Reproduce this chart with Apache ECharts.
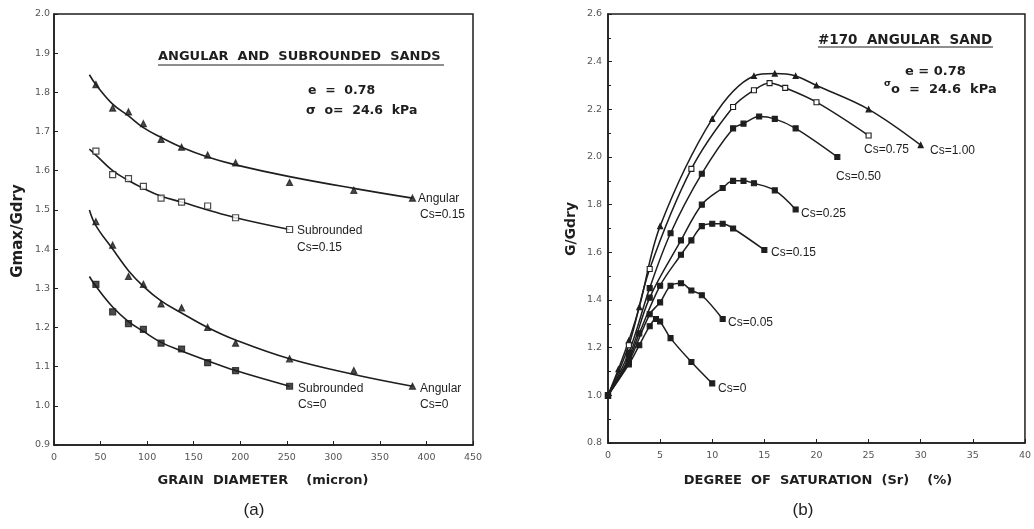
<!DOCTYPE html>
<html>
<head>
<meta charset="utf-8">
<script src="https://cdn.jsdelivr.net/npm/echarts@6/dist/echarts.min.js"></script>
<style>html,body{margin:0;padding:0;background:#fff}#c{width:1034px;height:529px}</style>
</head>
<body>
<div id="c"></div>
<script>
// ---------- Panel (a): Gmax/Gdry vs grain diameter ----------
const aXTicks = [0, 50, 100, 150, 200, 250, 300, 350, 400, 450];
const aYTicks = [0.9, 1.0, 1.1, 1.2, 1.3, 1.4, 1.5, 1.6, 1.7, 1.8, 1.9, 2.0];
// measured points [diameter, Gmax/Gdry]
const angular015 = [[45,1.82],[63,1.76],[80,1.75],[96,1.72],[115,1.68],[137,1.66],[165,1.64],[195,1.62],[253,1.57],[322,1.55],[385,1.53]];
const subrounded015 = [[45,1.65],[63,1.59],[80,1.58],[96,1.56],[115,1.53],[137,1.52],[165,1.51],[195,1.48],[253,1.45]];
const angular0 = [[45,1.47],[63,1.41],[80,1.33],[96,1.31],[115,1.26],[137,1.25],[165,1.20],[195,1.16],[253,1.12],[322,1.09],[385,1.05]];
const subrounded0 = [[45,1.31],[63,1.24],[80,1.21],[96,1.195],[115,1.16],[137,1.145],[165,1.11],[195,1.09],[253,1.05]];
// fitted curves
const fitAngular015 = [[38,1.845],[45,1.82],[63,1.77],[80,1.74],[96,1.71],[115,1.685],[137,1.66],[165,1.635],[195,1.615],[253,1.585],[322,1.555],[385,1.53]];
const fitSubrounded015 = [[38,1.655],[45,1.64],[63,1.60],[80,1.575],[96,1.555],[115,1.535],[137,1.52],[165,1.50],[195,1.48],[253,1.45]];
const fitAngular0 = [[38,1.50],[45,1.46],[63,1.40],[80,1.345],[96,1.305],[115,1.268],[137,1.237],[165,1.20],[195,1.168],[253,1.12],[322,1.08],[385,1.05]];
const fitSubrounded0 = [[38,1.33],[45,1.305],[63,1.252],[80,1.215],[96,1.19],[115,1.162],[137,1.14],[165,1.115],[195,1.09],[253,1.05]];

// ---------- Panel (b): G/Gdry vs degree of saturation ----------
const bXTicks = [0, 5, 10, 15, 20, 25, 30, 35, 40];
const bYTicks = [0.8, 1.0, 1.2, 1.4, 1.6, 1.8, 2.0, 2.2, 2.4, 2.6];
const cs100 = [[0,1.0],[1,1.11],[2,1.23],[3,1.37],[5,1.71],[10,2.16],[14,2.34],[16,2.35],[18,2.34],[20,2.30],[25,2.20],[30,2.05]];
const cs075 = [[0,1.0],[2,1.21],[4,1.53],[8,1.95],[12,2.21],[14,2.28],[15.5,2.31],[17,2.29],[20,2.23],[25,2.09]];
const cs050 = [[0,1.0],[2,1.18],[4,1.45],[6,1.68],[9,1.93],[12,2.12],[13,2.14],[14.5,2.17],[16,2.16],[18,2.12],[22,2.0]];
const cs025 = [[0,1.0],[2,1.16],[4,1.41],[7,1.65],[9,1.80],[11,1.87],[12,1.90],[13,1.90],[14,1.89],[16,1.86],[18,1.78]];
const cs015 = [[0,1.0],[2,1.15],[3,1.26],[5,1.46],[7,1.59],[8,1.65],[9,1.71],[10,1.72],[11,1.72],[12,1.70],[15,1.61]];
const cs005 = [[0,1.0],[2,1.14],[4,1.34],[5,1.39],[6,1.46],[7,1.47],[8,1.44],[9,1.42],[11,1.32]];
const cs000 = [[0,1.0],[2,1.13],[3,1.21],[4,1.29],[4.6,1.32],[5,1.31],[6,1.24],[8,1.14],[10,1.05]];

const INK = '#1e1e1e';
const chart = echarts.init(document.getElementById('c'), null, {renderer: 'canvas'});

function xAxisCfg(idx, ticks) {
  return {
    type: 'value', gridIndex: idx, min: ticks[0], max: ticks[ticks.length - 1],
    interval: ticks[1] - ticks[0],
    axisLine: {show: true, onZero: false, lineStyle: {color: INK, width: 1.5}},
    axisTick: {show: true, inside: true, length: 4, lineStyle: {color: INK}},
    axisLabel: {color: '#555', fontSize: 9.5, fontFamily: 'DejaVu Sans', margin: 8},
    splitLine: {show: false}
  };
}
function yAxisCfg(idx, ticks, minor, margin) {
  return {
    type: 'value', gridIndex: idx, min: ticks[0], max: ticks[ticks.length - 1],
    interval: +(ticks[1] - ticks[0]).toFixed(2),
    axisLine: {show: true, onZero: false, lineStyle: {color: INK, width: 1.5}},
    axisTick: {show: true, inside: true, length: 4, lineStyle: {color: INK}},
    minorTick: {show: !!minor, splitNumber: 2, length: 3, lineStyle: {color: INK}},
    axisLabel: {color: '#555', fontSize: 9.5, fontFamily: 'DejaVu Sans', margin: margin,
      formatter: v => v.toFixed(1)},
    splitLine: {show: false}
  };
}
function curve(data, x, y) {
  return {type: 'line', xAxisIndex: x, yAxisIndex: y, data: data, smooth: 0.4,
    showSymbol: false, symbol: 'none', lineStyle: {color: INK, width: 1.6}, z: 2};
}
function pts(data, x, y, symbol, filled, size) {
  return {type: 'scatter', xAxisIndex: x, yAxisIndex: y, data: data, symbol: symbol,
    symbolSize: size || 6,
    itemStyle: {color: filled ? INK : '#fff', borderColor: INK, borderWidth: 1.2}, z: 3};
}
function line(data, x, y, symbol, filled, size) {
  return {type: 'line', xAxisIndex: x, yAxisIndex: y, data: data, smooth: 0.35,
    symbol: symbol, symbolSize: size || 5, showSymbol: true,
    lineStyle: {color: INK, width: 1.5},
    itemStyle: {color: filled ? INK : '#fff', borderColor: INK, borderWidth: 1.1}, z: 3};
}

const txt = (x, y, text, opt) => Object.assign({type: 'text', x: x, y: y,
  style: Object.assign({text: text, fill: INK, font: '12px "Liberation Sans"'}, opt || {})});

const labelFont = '12px "Liberation Sans"';
const boldFont = 'bold 13px "DejaVu Sans"';
const titleFont = 'bold 12.5px "DejaVu Sans"';

const option = {
  animation: false,
  backgroundColor: '#fff',
  grid: [
    {left: 54, top: 14, width: 419, height: 431, show: true, borderColor: INK, borderWidth: 1.5, backgroundColor: 'transparent'},
    {left: 608, top: 14, width: 420, height: 429, show: true, borderColor: INK, borderWidth: 1.5, backgroundColor: 'transparent'}
  ],
  xAxis: [xAxisCfg(0, aXTicks), xAxisCfg(1, bXTicks)],
  yAxis: [yAxisCfg(0, aYTicks, false, 4), yAxisCfg(1, bYTicks, true, 6)],
  series: [
    curve(fitAngular015, 0, 0), curve(fitSubrounded015, 0, 0),
    curve(fitAngular0, 0, 0), curve(fitSubrounded0, 0, 0),
    pts(angular015, 0, 0, 'triangle', true, 6),
    pts(subrounded015, 0, 0, 'rect', false, 6),
    pts(angular0, 0, 0, 'triangle', true, 6),
    pts(subrounded0, 0, 0, 'rect', true, 6),
    line(cs100, 1, 1, 'triangle', true, 5),
    line(cs075, 1, 1, 'rect', false, 5),
    line(cs050, 1, 1, 'rect', true, 5),
    line(cs025, 1, 1, 'rect', true, 5),
    line(cs015, 1, 1, 'rect', true, 5),
    line(cs005, 1, 1, 'rect', true, 5),
    line(cs000, 1, 1, 'rect', true, 5)
  ],
  graphic: [
    // Panel (a) annotations
    txt(158, 50, 'ANGULAR  AND  SUBROUNDED  SANDS', {font: 'bold 13px "DejaVu Sans"'}),
    {type: 'line', shape: {x1: 158, y1: 65, x2: 444, y2: 65}, style: {stroke: INK, lineWidth: 1}},
    txt(308, 84, 'e  =  0.78', {font: titleFont}),
    txt(306, 104, 'σ  o=  24.6  kPa', {font: titleFont}),
    txt(418, 193, 'Angular', {font: labelFont}),
    txt(420, 209, 'Cs=0.15', {font: labelFont}),
    txt(297, 225, 'Subrounded', {font: labelFont}),
    txt(297, 242, 'Cs=0.15', {font: labelFont}),
    txt(298, 383, 'Subrounded', {font: labelFont}),
    txt(298, 399, 'Cs=0', {font: labelFont}),
    txt(420, 383, 'Angular', {font: labelFont}),
    txt(420, 399, 'Cs=0', {font: labelFont}),
    txt(263, 474, 'GRAIN  DIAMETER    (micron)', {font: boldFont, textAlign: 'center'}),
    {type: 'text', x: 18, y: 231, rotation: Math.PI / 2,
      style: {text: 'Gmax/Gdry', font: 'bold 15px "DejaVu Sans"', fill: INK, textAlign: 'center', textVerticalAlign: 'middle'}},
    txt(254, 502, '(a)', {font: '17px "Liberation Sans"', textAlign: 'center'}),
    // Panel (b) annotations
    txt(818, 33, '#170  ANGULAR  SAND', {font: 'bold 13.5px "DejaVu Sans"'}),
    {type: 'line', shape: {x1: 818, y1: 47, x2: 993, y2: 47}, style: {stroke: INK, lineWidth: 1}},
    txt(905, 65, 'e = 0.78', {font: 'bold 13px "DejaVu Sans"'}),
    txt(884, 79, 'σ', {font: 'bold 9px "DejaVu Sans"'}),
    txt(891, 83, 'o  =  24.6  kPa', {font: 'bold 13px "DejaVu Sans"'}),
    txt(864, 144, 'Cs=0.75', {font: labelFont}),
    txt(930, 145, 'Cs=1.00', {font: labelFont}),
    txt(836, 171, 'Cs=0.50', {font: labelFont}),
    txt(801, 208, 'Cs=0.25', {font: labelFont}),
    txt(771, 247, 'Cs=0.15', {font: labelFont}),
    txt(728, 317, 'Cs=0.05', {font: labelFont}),
    txt(718, 383, 'Cs=0', {font: labelFont}),
    txt(818, 474, 'DEGREE  OF  SATURATION  (Sr)    (%)', {font: boldFont, textAlign: 'center'}),
    {type: 'text', x: 571, y: 229, rotation: Math.PI / 2,
      style: {text: 'G/Gdry', font: 'bold 14px "DejaVu Sans"', fill: INK, textAlign: 'center', textVerticalAlign: 'middle'}},
    txt(803, 502, '(b)', {font: '17px "Liberation Sans"', textAlign: 'center'})
  ]
};
chart.setOption(option);
</script>
</body>
</html>
